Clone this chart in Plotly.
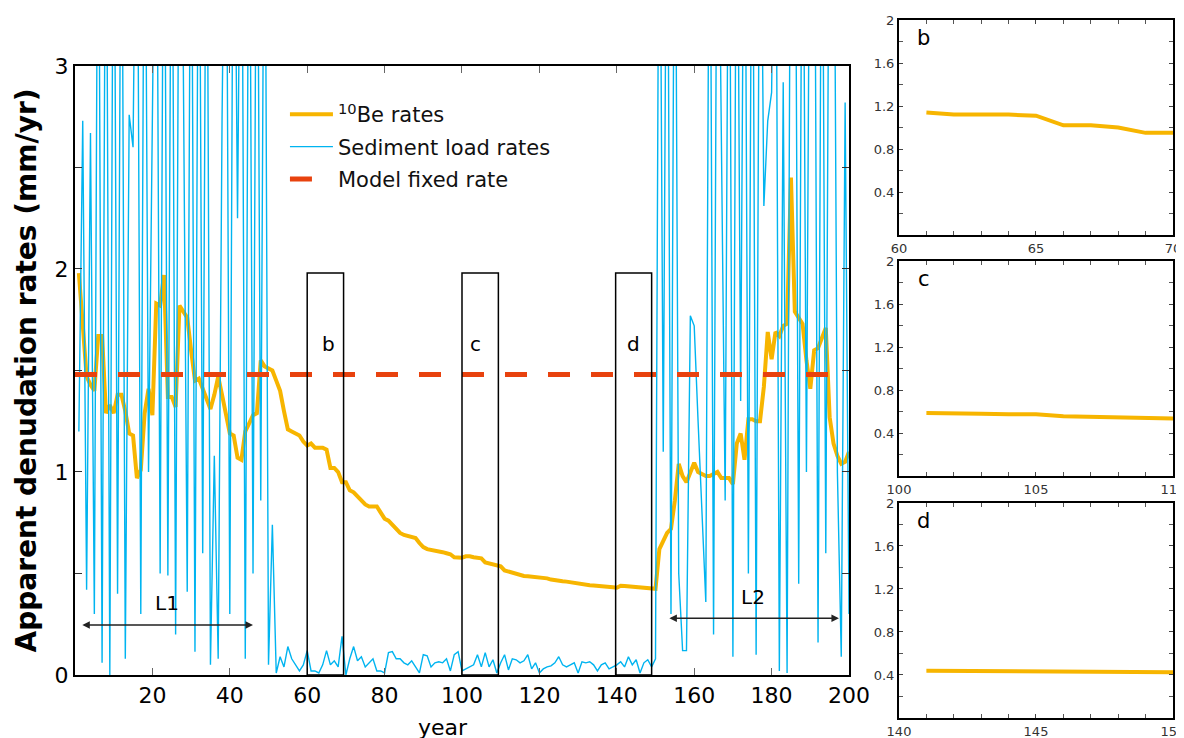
import plotly.graph_objects as go

# data
years = list(range(1, 201))

be_rates = [
    1.98, 1.70, 1.47, 1.43, 1.40, 1.67, 1.67, 1.29, 1.33, 1.29,
    1.38, 1.38, 1.30, 1.19, 1.18, 0.97, 1.01, 1.29, 1.41, 1.28,
    1.83, 1.82, 1.97, 1.37, 1.37, 1.32, 1.82, 1.79, 1.76, 1.60,
    1.45, 1.46, 1.41, 1.36, 1.31, 1.38, 1.47, 1.38, 1.28, 1.19,
    1.18, 1.07, 1.06, 1.20, 1.24, 1.28, 1.29, 1.55, 1.52, 1.51,
    1.50, 1.45, 1.40, 1.30, 1.21, 1.20, 1.19, 1.18, 1.15, 1.13,
    1.14, 1.12, 1.12, 1.12, 1.11, 1.02, 1.02, 1.00, 0.95, 0.95,
    0.91, 0.90, 0.88, 0.86, 0.84, 0.83, 0.83, 0.83, 0.80, 0.77,
    0.76, 0.74, 0.72, 0.70, 0.69, 0.685, 0.68, 0.675, 0.65, 0.63,
    0.62, 0.615, 0.61, 0.61, 0.605, 0.60, 0.595, 0.58, 0.578, 0.578,
    0.585, 0.585, 0.58, 0.575, 0.575, 0.555, 0.55, 0.54, 0.54, 0.535,
    0.515, 0.51, 0.505, 0.50, 0.49, 0.488, 0.486, 0.485, 0.482, 0.48,
    0.478, 0.476, 0.47, 0.466, 0.465, 0.462, 0.46, 0.457, 0.455, 0.45,
    0.445, 0.443, 0.442, 0.441, 0.44, 0.438, 0.436, 0.434, 0.432, 0.43,
    0.44, 0.438, 0.436, 0.435, 0.434, 0.433, 0.432, 0.43, 0.428, 0.425,
    0.62, 0.66, 0.70, 0.72, 0.86, 1.04, 0.98, 0.95, 1.00, 1.045,
    1.00, 0.99, 0.98, 0.98, 0.99, 1.00, 0.97, 0.97, 0.97, 0.94,
    1.14, 1.19, 1.06, 1.26, 1.26, 1.25, 1.25, 1.42, 1.69, 1.555,
    1.69, 1.67, 1.72, 1.73, 2.45, 1.79, 1.76, 1.73, 1.55, 1.41,
    1.60, 1.61, 1.66, 1.71, 1.27, 1.14, 1.08, 1.04, 1.05, 1.10,
]

sed_rates = [
    1.2, 2.73, 0.42, 2.67, 0.3, 4.5, 0.06, 4.5, 0.0, 4.5,
    0.4, 4.5, 0.08, 2.76, 2.6, 4.5, 0.3, 4.5, 1.0, 2.92,
    4.5, 0.5, 4.5, 0.49, 4.5, 0.2, 4.5, 2.98, 0.41, 4.5,
    0.115, 4.5, 0.6, 4.5, 0.05, 1.08, 0.08, 2.74, 4.5, 0.3,
    4.5, 2.25, 4.5, 0.08, 4.5, 0.5, 4.5, 0.86, 4.5, 0.05,
    0.74, 0.01, 0.09, 0.04, 0.14, 0.08, 0.05, 0.02, 0.05, 0.12,
    0.02, 0.02, 0.01, 0.05, 0.12, 0.05, 0.07, 0.04, 0.19, 0.0,
    0.08, 0.14, 0.07, 0.09, 0.04, 0.06, 0.08, 0.02, 0.02, 0.01,
    0.11, 0.115, 0.08, 0.08, 0.06, 0.05, 0.07, 0.04, 0.01, 0.10,
    0.095, 0.04, 0.06, 0.065, 0.06, 0.08, 0.02, 0.10, 0.115, 0.02,
    0.03, 0.04, 0.05, 0.10, 0.04, 0.11, 0.04, 0.075, 0.01, 0.06,
    0.10, 0.025, 0.08, 0.075, 0.06, 0.07, 0.10, 0.03, 0.06, 0.01,
    0.03, 0.04, 0.045, 0.06, 0.09, 0.05, 0.04, 0.05, 0.06, 0.01,
    0.065, 0.06, 0.065, 0.05, 0.02, 0.05, 0.06, 0.03, 0.04, 0.05,
    0.065, 0.04, 0.09, 0.05, 0.075, 0.01, 0.06, 0.075, 0.04, 0.08,
    4.5, 1.10, 4.5, 0.3, 4.5, 0.5, 0.12, 0.12, 1.77, 1.72,
    1.25, 0.8, 0.36, 4.5, 0.2, 4.5, 2.65, 0.86, 4.5, 0.09,
    4.5, 1.35, 4.5, 0.5, 4.5, 0.10, 4.5, 2.31, 2.73, 2.87,
    4.5, 0.02, 2.92, 0.01, 4.5, 4.5, 0.45, 4.5, 1.0, 4.5,
    4.5, 0.16, 4.5, 0.6, 4.5, 4.5, 1.0, 0.09, 2.82, 0.3,
]

model_rate = 1.48
box_windows = [(60, 69.4), (100, 109.4), (139.7, 149)]
box_top = 1.98
box_label_x = [65.6, 103.6, 144.2]
inset_windows = [(60, 70), (100, 110), (140, 150)]
inset_labels = ['b', 'c', 'd']

ORANGE = '#F7B500'
BLUE = '#00B4F0'
RED = '#E8420E'
FONT = 'DejaVu Sans'

fig = go.Figure()

fig.add_trace(go.Scatter(x=years, y=be_rates, mode='lines', name='<sup>10</sup>Be rates',
                         legendgroup='be', line=dict(color=ORANGE, width=4)))
fig.add_trace(go.Scatter(x=years, y=sed_rates, mode='lines', name='Sediment load rates',
                         legendgroup='sed', line=dict(color=BLUE, width=1.4)))
fig.add_trace(go.Scatter(x=[0, 200], y=[model_rate, model_rate], mode='lines',
                         name='Model fixed rate', legendgroup='model',
                         line=dict(color=RED, width=5, dash='22px,21px')))

# insets (page body has an 8px margin, so domains are offset to compensate)
inset_dom_y = [[0.68904, 0.98356], [0.35890, 0.65342], [0.02740, 0.32192]]
for i, (lo, hi) in enumerate(inset_windows):
    n = i + 2
    xs = [y for y in years if lo < y <= hi]
    ys = [be_rates[y - 1] for y in xs]
    fig.add_trace(go.Scatter(x=xs, y=ys, mode='lines', showlegend=False,
                             line=dict(color=ORANGE, width=4),
                             xaxis='x%d' % n, yaxis='y%d' % n))
    fig.update_layout(**{
        'xaxis%d' % n: dict(domain=[0.75765, 0.99065], anchor='y%d' % n, range=[lo, hi],
                            tickvals=[lo, (lo + hi) / 2, hi], ticks='inside', ticklen=4,
                            showline=True, linecolor='black', linewidth=2, mirror='ticks',
                            showgrid=False, zeroline=False, automargin=False,
                            ticklabeloverflow='allow',
                            tickfont=dict(family=FONT, size=13, color='#333'),
                            minor=dict(dtick=1, ticks='inside', ticklen=4, tickcolor='#555')),
        'yaxis%d' % n: dict(domain=inset_dom_y[i], anchor='x%d' % n, range=[0, 2],
                            tickvals=[0.4, 0.8, 1.2, 1.6, 2], ticktext=['0.4', '0.8', '1.2', '1.6', '2'],
                            ticks='inside', ticklen=4,
                            showline=True, linecolor='black', linewidth=2, mirror='ticks',
                            showgrid=False, zeroline=False, automargin=False,
                            ticklabeloverflow='allow',
                            tickfont=dict(family=FONT, size=13, color='#333'),
                            minor=dict(dtick=0.2, ticks='inside', ticklen=4, tickcolor='#555')),
    })
    fig.add_annotation(x=lo + 0.9, y=1.83, xref='x%d' % n, yref='y%d' % n,
                       text=inset_labels[i], showarrow=False,
                       font=dict(family=FONT, size=21, color='black'))

# boxes on main plot
for (x0, x1), lab, lx in zip(box_windows, inset_labels, box_label_x):
    fig.add_shape(type='rect', x0=x0, x1=x1, y0=0, y1=box_top, xref='x', yref='y',
                  line=dict(color='black', width=1.5))
    fig.add_annotation(x=lx, y=1.63, text=lab, showarrow=False,
                       font=dict(family=FONT, size=20, color='black'))

# L1 / L2 arrows
for x0, x1, ya, lab, ly in [(1.5, 46, 0.246, 'L1', 0.355), (153.2, 197.4, 0.28, 'L2', 0.385)]:
    fig.add_annotation(x=x1, y=ya, ax=x0, ay=ya, xref='x', yref='y', axref='x', ayref='y',
                       text='', showarrow=True, arrowside='end+start', arrowhead=2,
                       arrowsize=1, arrowwidth=1.5, arrowcolor='#222')
    fig.add_annotation(x=(x0 + x1) / 2, y=ly, text=lab, showarrow=False,
                       font=dict(family=FONT, size=20, color='black'))

fig.add_annotation(x=0.370, y=0.015, xref='paper', yref='paper', text='year',
                   showarrow=False, yanchor='middle',
                   font=dict(family=FONT, size=22, color='black'))

fig.update_layout(
    width=1176, height=730,
    margin=dict(l=0, r=0, t=0, b=0),
    paper_bgcolor='white', plot_bgcolor='white',
    font=dict(family=FONT, color='black'),
    xaxis=dict(domain=[0.05697, 0.71514], range=[0, 200],
               tickvals=list(range(20, 201, 20)),
               ticks='inside', ticklen=7, tickcolor='#666',
               showline=True, linecolor='black', linewidth=2, mirror='ticks',
               showgrid=False, zeroline=False, automargin=False,
               tickfont=dict(family=FONT, size=22, color='black')),
    yaxis=dict(domain=[0.08630, 0.92055], range=[0, 3], dtick=1, tick0=0,
               ticks='inside', ticklen=7, tickcolor='#333',
               showline=True, linecolor='black', linewidth=2, mirror='ticks',
               showgrid=False, zeroline=False, automargin=False,
               minor=dict(dtick=0.5, ticks='inside', ticklen=7, tickcolor='#333'),
               tickfont=dict(family=FONT, size=22, color='black'),
               title=dict(text='<b>Apparent denudation rates (mm/yr)</b>', standoff=10,
                          font=dict(family=FONT, size=28, color='black'))),
    legend=dict(x=0.2355, y=0.882, xanchor='left', yanchor='top',
                bgcolor='rgba(0,0,0,0)', font=dict(family=FONT, size=21, color='#111'),
                traceorder='grouped', tracegroupgap=2, itemwidth=43),
)

fig.write_html('out.html')
